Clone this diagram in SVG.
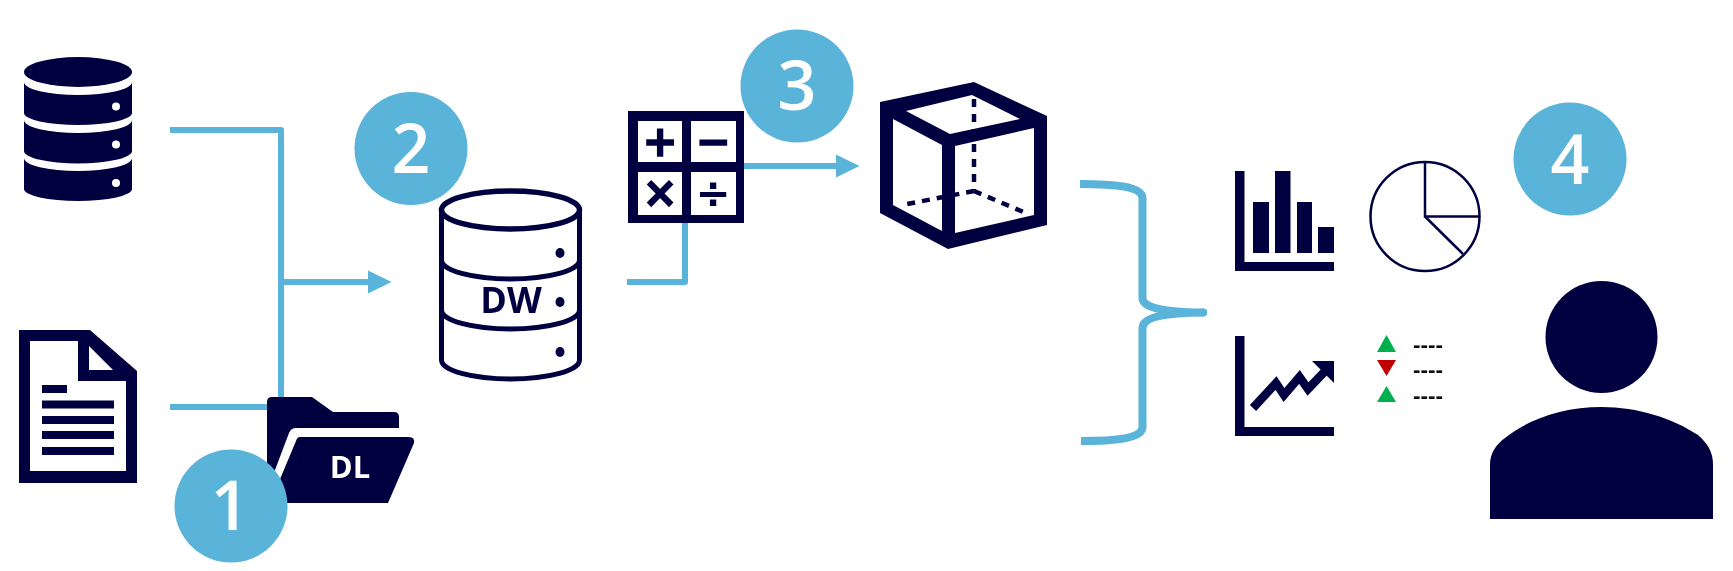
<svg xmlns="http://www.w3.org/2000/svg" width="1733" height="571" viewBox="0 0 1733 571">
<style>
.n{fill:#00003f}
.w{fill:#fff}
.b{fill:#5ab3d9}
.c{fill:none;stroke:#5ab3d9;stroke-width:6;stroke-linejoin:round}
.o{fill:none;stroke:#00003f}
.d{font-family:"Open Sans","Liberation Sans",sans-serif;font-weight:600;font-size:68px;fill:#fff;text-anchor:middle}
.l{font-family:"Open Sans","Liberation Sans",sans-serif;font-weight:700;text-anchor:middle}
.s{font-family:"DejaVu Sans",sans-serif;font-weight:700;font-size:42px;fill:#00003f;text-anchor:middle}
.t{stroke:#00003f;stroke-width:1.5}
.m{font-family:"Liberation Sans",sans-serif;font-weight:700;font-size:22.5px;fill:#111;text-anchor:middle}
</style>
<defs>
<marker id="arrow" markerUnits="userSpaceOnUse" markerWidth="24" markerHeight="24" refX="0" refY="12" orient="auto"><path d="M0 0.500L23.500 12L0 23.500Z" fill="#5ab3d9"/></marker>
<filter id="soft" filterUnits="userSpaceOnUse" x="0" y="0" width="1733" height="571"><feGaussianBlur stdDeviation="0.6"/></filter>
</defs>
<g filter="url(#soft)">
<g id="connectors">
<path class="c" d="M170 130H281V397"/>
<path class="c" d="M170 407H270"/>
<path class="c" d="M281 282H368" marker-end="url(#arrow)"/>
<path class="c" d="M627 282H685V222"/>
<path class="c" d="M744 166H836" marker-end="url(#arrow)"/>
<path class="c" style="stroke-width:8" d="M1080 184C1112 184 1142 186 1142.500 198V298C1142.500 308 1165 312 1203 312.500C1165 313 1142.500 317 1142.500 328V427C1142.500 439 1112 441 1081 441"/>
<circle class="b" cx="1203" cy="312.500" r="4"/>
</g>
<g id="database-source">
<path class="n" d="M24 82A54 13 0 0 0 132 82V113A54 12 0 0 1 24 113Z"/>
<path class="n" d="M24 120A54 13 0 0 0 132 120V151A54 12.500 0 0 1 24 151Z"/>
<path class="n" d="M24 158A54 13 0 0 0 132 158V189A54 12 0 0 1 24 189Z"/>
<ellipse class="n" cx="78" cy="72" rx="54" ry="15"/>
<circle class="w" cx="116" cy="106.500" r="4"/><circle class="w" cx="116" cy="144.500" r="4"/><circle class="w" cx="116" cy="183" r="4"/>
</g>
<g id="document-source">
<path class="n" d="M19 330H90L137 371V483H19Z"/>
<path class="w" d="M30 341H78V381H126V471H30Z"/>
<path class="w" d="M89 346L113 370H89Z"/>
<rect class="n" x="42" y="385" width="25" height="8"/>
<rect class="n" x="42" y="400.500" width="72" height="8"/><rect class="n" x="42" y="416" width="72" height="8"/><rect class="n" x="42" y="431" width="72" height="8"/><rect class="n" x="42" y="447" width="72" height="8"/>
</g>
<g id="data-lake">
<path class="n" d="M267 402Q267 397 272 397H312L333 412H394Q399 412 399 417V428H296Q291 428 289 433L275 470L267 470Z"/>
<path class="n" d="M300 437H409Q415 437 414 443L388 503H270L296 441Q297 437 300 437Z"/>
<text class="l w" x="350" y="478" font-size="31">DL</text>
</g>
<g id="badge-1"><circle class="b" cx="231" cy="506" r="56.500"/><text class="d" x="230" y="530">1</text></g>
<g id="badge-2"><circle class="b" cx="411" cy="148.500" r="56.500"/><text class="d" x="411" y="173">2</text></g>
<g id="data-warehouse">
<path class="w" d="M441.500 210V360A69 19 0 0 0 579.500 360V210Z"/>
<path class="o" stroke-width="5" d="M441.500 210V360A69 19 0 0 0 579.500 360V210"/>
<ellipse cx="510.500" cy="210" rx="69" ry="19" fill="#fff" stroke="#00003f" stroke-width="5.500"/>
<path class="o" stroke-width="5" d="M441.500 260A69 19 0 0 0 579.500 260M441.500 310A69 19 0 0 0 579.500 310"/>
<ellipse class="n" cx="560" cy="253" rx="4.500" ry="5"/><ellipse class="n" cx="560" cy="302" rx="4.500" ry="5"/><ellipse class="n" cx="560" cy="352" rx="4.500" ry="5"/>
<text class="l n" x="511" y="313" font-size="36">DW</text>
</g>
<g id="calculator">
<rect class="n" x="628" y="111" width="116" height="112"/>
<rect class="w" x="638" y="121" width="44" height="41"/><rect class="w" x="691" y="121" width="45" height="41"/>
<rect class="w" x="638" y="172" width="44" height="43"/><rect class="w" x="691" y="172" width="45" height="43"/>
<text class="s t" x="660" y="156">+</text><text class="s t" x="713" y="156">−</text>
<text class="s t" x="660" y="207">×</text><text class="s" x="713" y="208">÷</text>
</g>
<g id="badge-3"><circle class="b" cx="797" cy="86" r="56.500"/><text class="d" x="797" y="110">3</text></g>
<g id="cube">
<path class="n" fill-rule="evenodd" d="M880 102L974 82L1047 116V225L948 249L880 213Z M906 111L950 134L1020 119L972 95Z M893 119V205L942 231V145Z M955 146V233L1034 215V128Z"/>
<path class="o" stroke-width="4.500" stroke-dasharray="8 7" d="M974 99V190M974 191L902 205M974 191L1028 214"/>
<path class="n" d="M942 144H955V234H942Z"/>
</g>
<g id="bar-chart">
<path class="n" d="M1235 171H1244.500V262H1334V271H1235Z"/>
<rect class="n" x="1253" y="202" width="16" height="51"/><rect class="n" x="1275" y="171" width="15.500" height="82"/><rect class="n" x="1297" y="202" width="15" height="51"/><rect class="n" x="1318" y="227" width="16" height="26"/>
</g>
<g id="pie-chart">
<circle cx="1425" cy="216.500" r="54.500" fill="none" stroke="#00003f" stroke-width="2.500"/>
<path class="o" stroke-width="2.500" d="M1425 162V216.500H1479M1425 216.500L1463 254"/>
</g>
<g id="line-chart">
<path class="n" d="M1235 336H1244.500V427H1334V436H1235Z"/>
<path class="o" stroke-width="8.500" d="M1253 408L1276 383L1284 395L1299.500 377L1308 389L1330 366"/>
<path class="n" d="M1312 361H1334V383Z"/>
</g>
<g id="kpi-list">
<path d="M1386.500 335L1396 352H1377Z" fill="#00b050"/>
<path d="M1377 360H1396L1386.500 376Z" fill="#c00000"/>
<path d="M1386.500 386L1396 402H1377Z" fill="#00b050"/>
<text class="m" x="1428" y="352">----</text><text class="m" x="1428" y="377">----</text><text class="m" x="1428" y="403">----</text>
</g>
<g id="badge-4"><circle class="b" cx="1570" cy="159" r="56.500"/><text class="d" x="1570" y="184">4</text></g>
<g id="user">
<ellipse class="n" cx="1601.500" cy="337" rx="56" ry="56"/>
<path class="n" d="M1490 519V465C1490 452 1497 444 1505 438C1530 418 1565 407 1601.500 407C1638 407 1672 418 1698 435C1708 444 1713 452 1713 465V519Z"/>
</g>
</g>
</svg>
